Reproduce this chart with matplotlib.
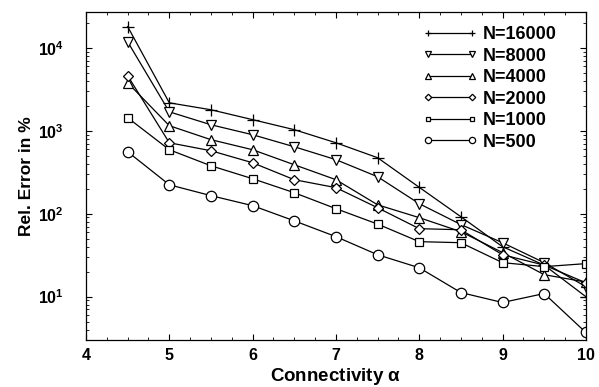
import matplotlib
matplotlib.use("Agg")
import matplotlib.pyplot as plt
from matplotlib.ticker import LogLocator, MultipleLocator, NullFormatter

plt.rcParams['font.family'] = ['Liberation Sans', 'DejaVu Sans']
plt.rcParams['mathtext.fontset'] = 'custom'
plt.rcParams['mathtext.rm'] = 'Liberation Sans:bold'
plt.rcParams['mathtext.it'] = 'Liberation Sans:bold'
plt.rcParams['mathtext.bf'] = 'Liberation Sans:bold'

alpha = [4.5, 5.0, 5.5, 6.0, 6.5, 7.0, 7.5, 8.0, 8.5, 9.0, 9.5, 10.0]

err_16000 = [18000, 2170, 1790, 1360, 1030, 716, 473, 208, 92, 40, 24, 10]
err_8000 = [11800, 1690, 1180, 895, 641, 448, 279, 132, 74, 44.7, 25.7, 13.2]
err_4000 = [3790, 1150, 780, 590, 389, 257, 128, 89.6, 60.7, 34, 18.4, 15]
err_2000 = [4600, 716, 574, 411, 257, 206, 118, 66, 64, 32, 24, 14.7]
err_1000 = [1435, 590, 378, 264, 179, 115, 75, 46, 44.7, 25.7, 23, 25]
err_500 = [558, 223, 165, 125, 82, 52.9, 32, 22.3, 11.2, 8.5, 10.9, 3.7]

labels = ['N=16000', 'N=8000', 'N=4000', 'N=2000', 'N=1000', 'N=500']
series = [err_16000, err_8000, err_4000, err_2000, err_1000, err_500]
markers = ['+', 'v', '^', 'D', 's', 'o']
msizes = [8, 7, 7, 5.5, 6, 7.5]

fig = plt.figure(figsize=(5.99, 3.87), dpi=100)
ax = fig.add_axes([0.1436, 0.1214, 0.8344, 0.8476])

for vals, lab, m, ms in zip(series, labels, markers, msizes):
    ax.plot(alpha, vals, color='black', lw=0.9, marker=m, markersize=ms,
            markerfacecolor='white', markeredgecolor='black', markeredgewidth=0.9,
            label=lab)

ax.set_yscale('log')
ax.set_xlim(4, 10)
ax.set_ylim(3.0, 27000)
ax.xaxis.set_major_locator(MultipleLocator(1))
ax.xaxis.set_minor_locator(MultipleLocator(0.25))
ax.yaxis.set_major_locator(LogLocator(base=10, numticks=10))
ax.yaxis.set_minor_locator(LogLocator(base=10, subs=range(2, 10), numticks=20))
ax.yaxis.set_minor_formatter(NullFormatter())
ax.tick_params(which='both', direction='in', top=True, right=True)
ax.tick_params(which='major', length=4, width=0.8, labelsize=11.5)
ax.tick_params(axis='y', which='major', pad=16)
ax.tick_params(axis='x', which='major', pad=6)
ax.tick_params(which='minor', length=2, width=0.6)
for lbl in ax.get_xticklabels() + ax.get_yticklabels():
    lbl.set_fontweight('bold')

ax.set_xlabel(r'Connectivity $\alpha$', fontsize=13.5, fontweight='bold', labelpad=2)
ax.set_ylabel('Rel. Error in %', fontsize=12.5, fontweight='bold', labelpad=3)

leg = ax.legend(loc='upper right', frameon=False, numpoints=2, markerscale=0.6,
                handlelength=3.05, fontsize=13, labelspacing=0.25,
                handletextpad=0.33, borderpad=0, borderaxespad=0,
                bbox_to_anchor=(557 / 599, 1 - 26 / 387),
                bbox_transform=fig.transFigure)
for t in leg.get_texts():
    t.set_fontweight('bold')

for s in ax.spines.values():
    s.set_linewidth(0.9)

fig.savefig('out.png', dpi=100)
